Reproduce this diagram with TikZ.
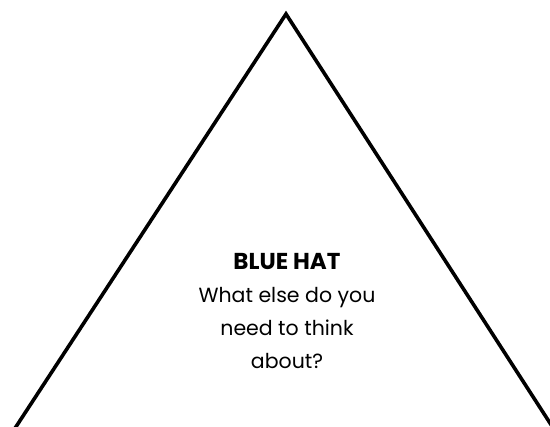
\documentclass[tikz,border=0pt]{standalone}
\usepackage{fontspec}
\setmainfont{Poppins}
\usetikzlibrary{positioning}

\begin{document}
\begin{tikzpicture}[x=1pt, y=-1pt,
    hatline/.style={draw, line width=3.6pt, line join=miter},
    hattext/.style={align=center, font=\fontsize{20.5}{33}\selectfont, inner sep=0pt}
]
    \useasboundingbox (0,0) rectangle (550,427);
    % triangle
    \coordinate (apex) at (286,14);
    \coordinate (left) at (-11,468);
    \coordinate (right) at (579,468);
    \begin{scope}
        \clip (0,0) rectangle (550,427);
        \draw[hatline] (left) -- (apex) -- (right);
    \end{scope}

    % text
    \node[hattext] (label) at (287,311) {{\fontsize{23}{33}\selectfont\textbf{BLUE HAT}}\\What else do you\\need to think\\about?};
\end{tikzpicture}
\end{document}
